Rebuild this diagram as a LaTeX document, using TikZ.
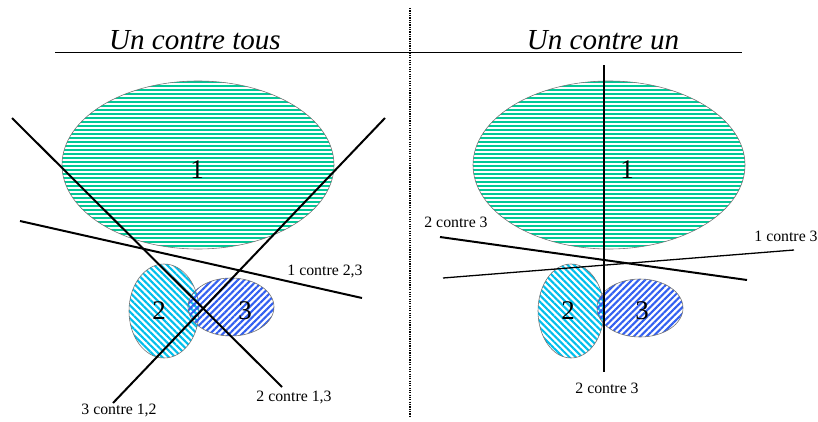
\documentclass[tikz,border=0pt]{standalone}
\usepackage{fontspec}
\setmainfont{Liberation Serif}
\usetikzlibrary{patterns.meta}

\definecolor{vert}{RGB}{0,200,150}
\definecolor{cyan2}{RGB}{0,190,235}
\definecolor{bleu}{RGB}{50,95,240}

\tikzset{
  bord/.style={draw=black!55,line width=0.5pt},
  raie/.style={draw=vert,line width=1.8pt},
  classe2/.style={bord,pattern={Lines[angle=-45,distance=3.9pt,line width=1.8pt]},pattern color=cyan2},
  classe3/.style={bord,pattern={Lines[angle=45,distance=3.9pt,line width=1.8pt]},pattern color=bleu},
  sep/.style={line width=1.7pt},
  fin/.style={line width=1.1pt},
  lbl/.style={font=\fontsize{13.5}{15}\selectfont,inner sep=0pt},
  num/.style={font=\fontsize{23}{25}\selectfont,inner sep=0pt},
  titre/.style={font=\fontsize{24.8}{26}\selectfont\itshape,inner sep=0pt}
}

% grande classe 1, rayee horizontalement
\newcommand{\classeun}[1]{
  \begin{scope}
    \clip (#1,165) ellipse [x radius=136,y radius=84];
    \foreach \yr in {82,86,...,250}
      \draw[raie] (#1-140,\yr) -- (#1+140,\yr);
  \end{scope}
  \draw[bord] (#1,165) ellipse [x radius=136,y radius=84];
}

\begin{document}
\begin{tikzpicture}[x=0.03cm,y=-0.03cm]
      \useasboundingbox (0,0) rectangle (818,421);
%
      \draw[dash pattern=on 1pt off 1pt,line width=0.9pt] (410,8) -- (410,418);
      \node[titre] (t1) at (195,40) {Un contre tous};
      \node[titre] (t2) at (603,40) {Un contre un};
      \draw[line width=0.7pt] (55,52) -- (742,52);
%
% un contre tous
      \classeun{198}
      \draw[classe2] (164,311) ellipse [x radius=35,y radius=47];
      \draw[classe3] (231,307) ellipse [x radius=43,y radius=29];
      \node[num] (a1) at (197,170) {1};
      \node[num] (a2) at (159,311) {2};
      \node[num] (a3) at (245,311) {3};
%
      \coordinate (p1) at (20,221);
      \coordinate (q1) at (362,298);
      \coordinate (p2) at (12,118);
      \coordinate (q2) at (282,387);
      \coordinate (p3) at (385,118);
      \coordinate (q3) at (113,403);
      \draw[sep] (p1) -- (q1);
      \draw[sep] (p2) -- (q2);
      \draw[sep] (p3) -- (q3);
      \node[lbl] (l1) at (325,271) {1 contre 2,3};
      \node[lbl] (l2) at (294,397) {2 contre 1,3};
      \node[lbl] (l3) at (119,410) {3 contre 1,2};
%
% un contre un
      \classeun{609}
      \draw[classe2] (571,311) ellipse [x radius=33,y radius=47];
      \draw[classe3] (640,308) ellipse [x radius=43,y radius=29];
      \node[num] (b1) at (627,170) {1};
      \node[num] (b2) at (568,311) {2};
      \node[num] (b3) at (642,311) {3};
%
      \coordinate (r1) at (604,65);
      \coordinate (s1) at (604,372);
      \coordinate (r2) at (440,237);
      \coordinate (s2) at (747,280);
      \coordinate (r3) at (443,278);
      \coordinate (s3) at (794,250);
      \draw[fin] (r1) -- (s1);
      \draw[sep] (r2) -- (s2);
      \draw[fin] (r3) -- (s3);
      \node[lbl] (m1) at (607,388) {2 contre 3};
      \node[lbl] (m2) at (456,222) {2 contre 3};
      \node[lbl] (m3) at (786,236) {1 contre 3};
    \end{tikzpicture}
\end{document}
